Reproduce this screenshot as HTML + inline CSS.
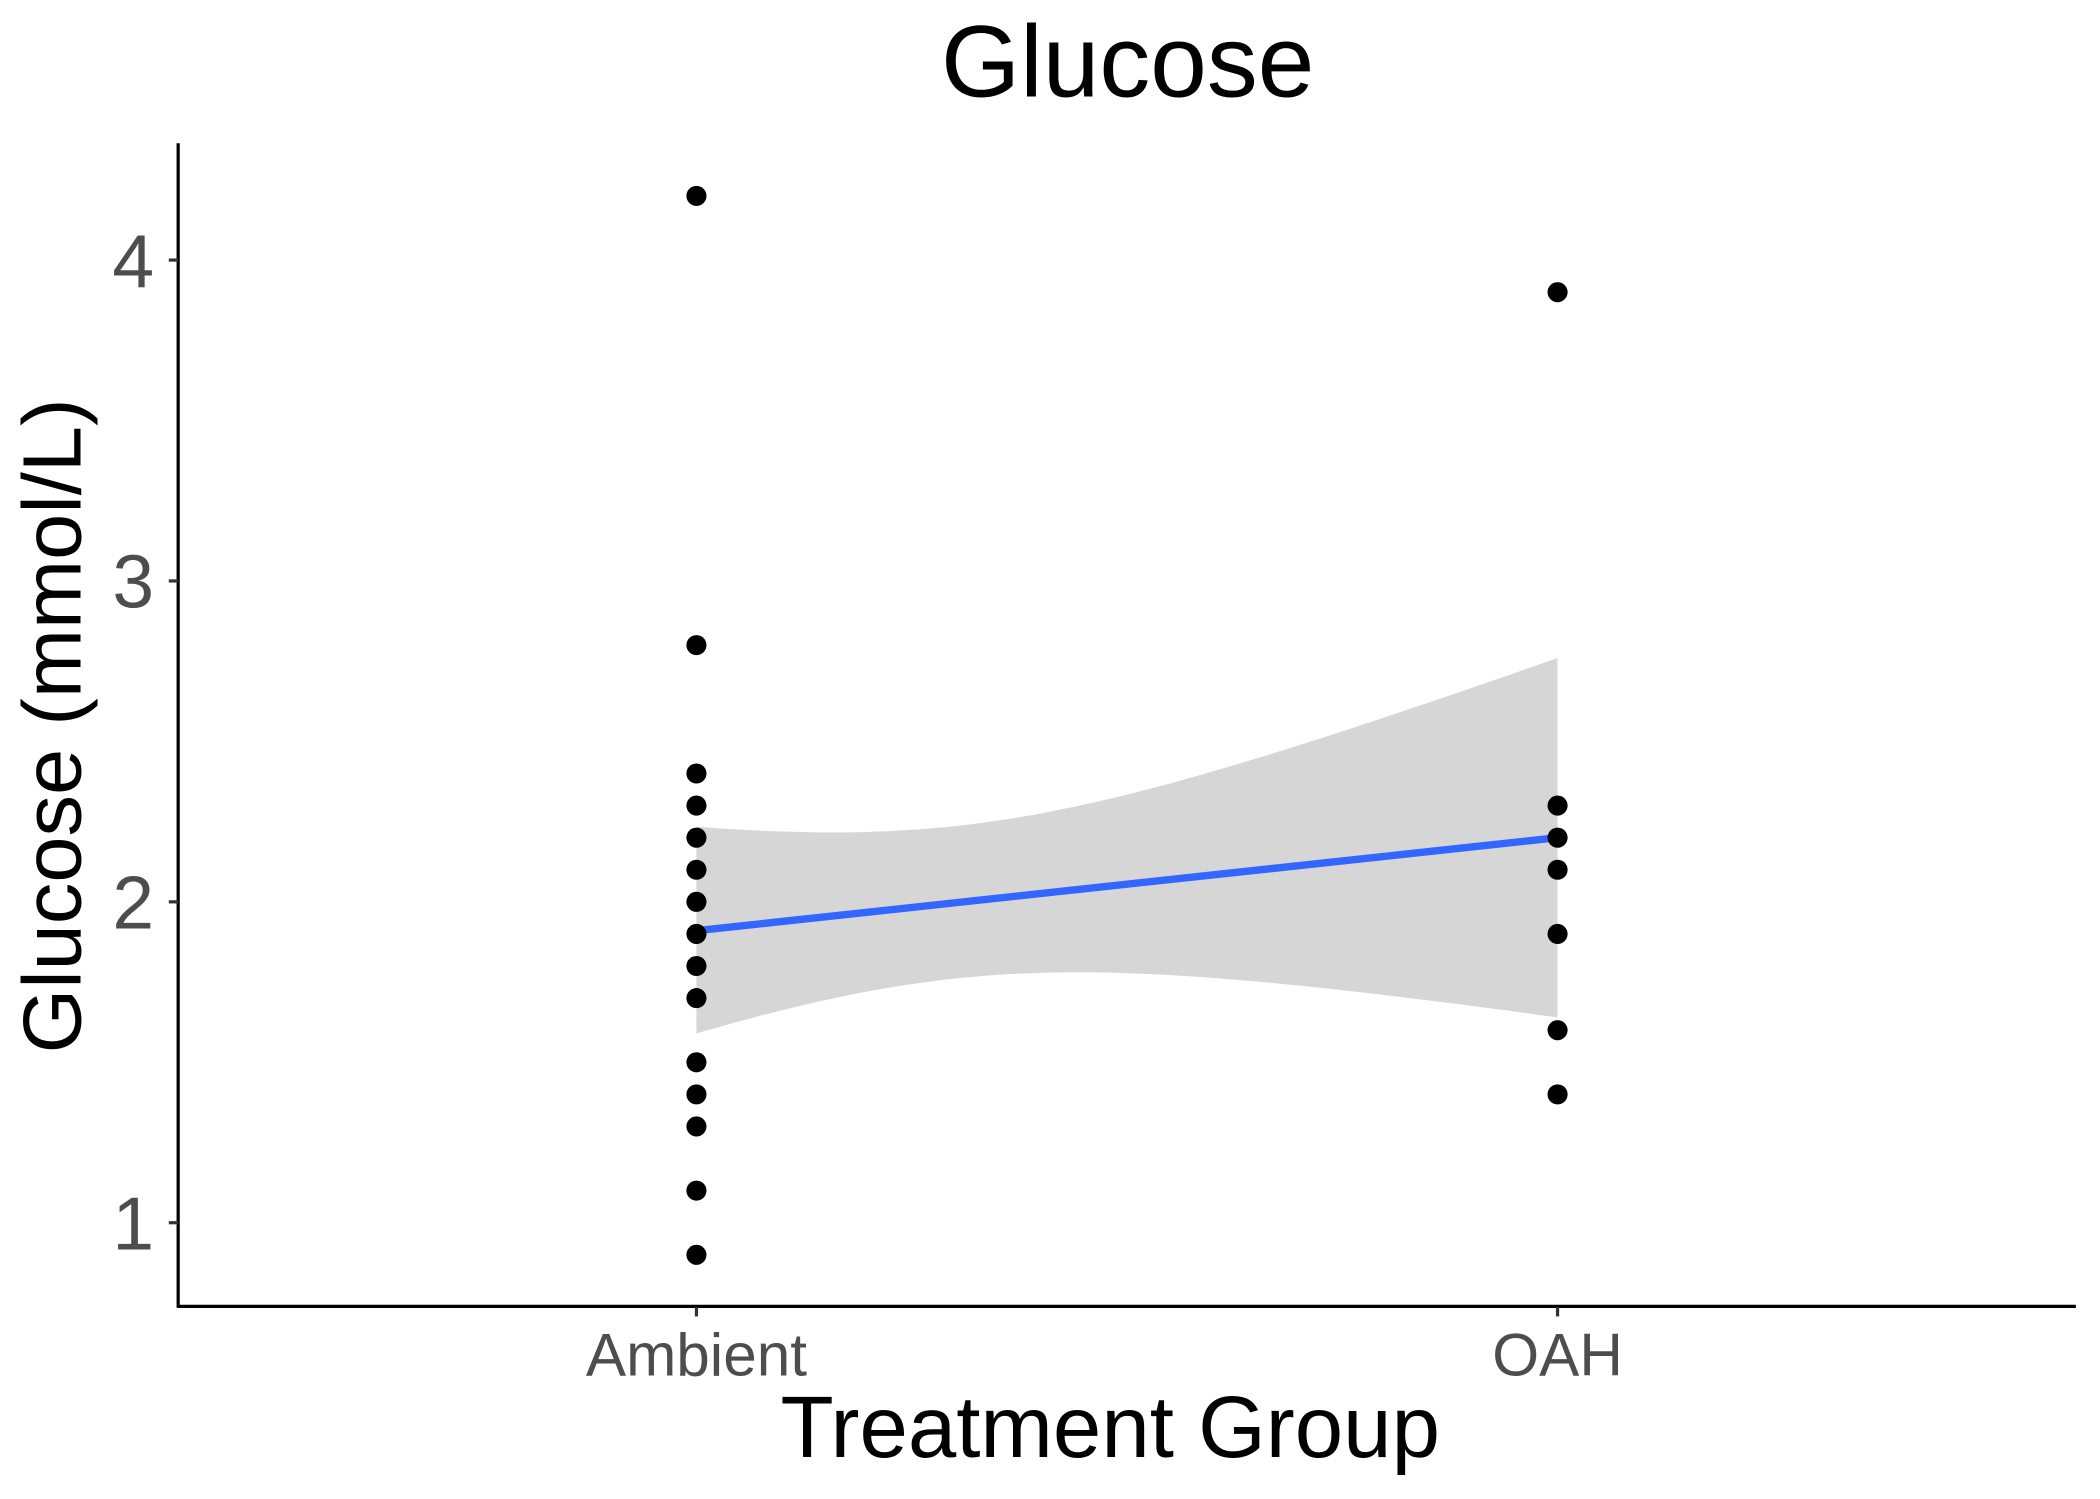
<!DOCTYPE html>
<html><head><meta charset="utf-8"><style>
html,body{margin:0;padding:0;background:#fff;}
svg{display:block;font-family:"Liberation Sans",sans-serif;}
</style></head><body>
<svg id="chart" width="2100" height="1499" viewBox="0 0 1568 1119.3" xmlns="http://www.w3.org/2000/svg">
<text x="842" y="72" font-size="76" text-anchor="middle" fill="#000">Glucose</text>
<g id="band"></g>
<g id="fit"></g>
<g id="pts"></g>
<line x1="133" y1="107" x2="133" y2="976" stroke="#000" stroke-width="2.4"/>
<line x1="132" y1="975.5" x2="1550" y2="975.5" stroke="#000" stroke-width="2.4"/>
<g id="yt"></g>
<g id="xt"></g>
<text x="829" y="1088" font-size="65" text-anchor="middle" fill="#000">Treatment Group</text>
<text transform="translate(60,542) rotate(-90)" font-size="62" text-anchor="middle" fill="#000">Glucose (mmol/L)</text>
</svg>
<script>
const categories = ["Ambient","OAH"];
const ambientValues = [4.2,2.8,2.4,2.3,2.2,2.1,2.0,1.9,1.8,1.7,1.5,1.4,1.3,1.1,0.9];
const oahValues = [3.9,2.3,2.2,2.1,1.9,1.6,1.4];
const fitValues = [1.91,2.2];
const bandUpper = [2.234,2.76];
const bandLower = [1.59,1.64];
const yTicks = [1,2,3,4];

const NS="http://www.w3.org/2000/svg";
function xs(i){return 520+i*(1163-520);}
function ys(v){return 913-(v-1)*239.6;}
function mk(tag,attrs,parent){const e=document.createElementNS(NS,tag);for(const k in attrs)e.setAttribute(k,attrs[k]);parent.appendChild(e);return e;}

const band=document.getElementById('band');
const c=0.3;
const h0=(bandUpper[0]-bandLower[0])/2, h1=(bandUpper[1]-bandLower[1])/2;
const m0=(bandUpper[0]+bandLower[0])/2, m1=(bandUpper[1]+bandLower[1])/2;
const B=(h1*h1-h0*h0)/((1-c)*(1-c)-c*c), A=h0*h0-B*c*c;
let up=[],lo=[];
for(let k=0;k<=80;k++){const t=k/80;const m=m0+(m1-m0)*t;const h=Math.sqrt(Math.max(A+B*(t-c)*(t-c),0));
 up.push(xs(t).toFixed(1)+','+ys(m+h).toFixed(1));lo.unshift(xs(t).toFixed(1)+','+ys(m-h).toFixed(1));}
const poly=mk('polygon',{points:up.concat(lo).join(' '),fill:'#d6d6d6'},band);



const fitG=document.getElementById('fit');
const fl=mk('line',{x1:xs(0),y1:ys(fitValues[0]),x2:xs(1),y2:ys(fitValues[1]),stroke:'#3366FF','stroke-width':5.5},fitG);



const pts=document.getElementById('pts');
[ambientValues,oahValues].forEach((arr,i)=>arr.forEach(v=>{
 const p=mk('circle',{cx:xs(i),cy:ys(v),r:7.5,fill:'#000'},pts);
 
 
}));

const yt=document.getElementById('yt');
yTicks.forEach(v=>{
 const l=mk('line',{x1:126,x2:133,y1:ys(v),y2:ys(v),stroke:'#333','stroke-width':2.4},yt);
 
 
 const t=mk('text',{x:115,y:ys(v)+20,'font-size':56,'text-anchor':'end',fill:'#4d4d4d'},yt);
 t.textContent=v;
 
 
});
const xt=document.getElementById('xt');
categories.forEach((cname,i)=>{
 const l=mk('line',{x1:xs(i),x2:xs(i),y1:976,y2:983,stroke:'#333','stroke-width':2.4},xt);
 
 
 const t=mk('text',{x:xs(i),y:1027,'font-size':45,'text-anchor':'middle',fill:'#4d4d4d'},xt);
 t.textContent=cname;
 
 
});
</script>
</body></html>
